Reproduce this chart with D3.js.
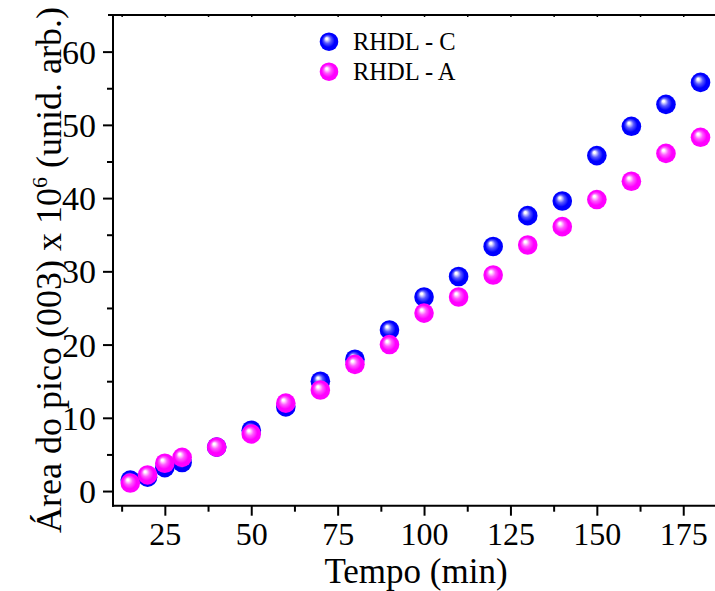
<!DOCTYPE html>
<html>
<head>
<meta charset="utf-8">
<script src="https://cdn.jsdelivr.net/npm/d3@7/dist/d3.min.js"></script>
<style>
  html, body { margin: 0; padding: 0; background: #fff; }
  svg { display: block; }
  text { font-family: "Liberation Serif", "Times New Roman", serif; fill: #000; }
</style>
</head>
<body>
<svg id="chart" width="715" height="591"></svg>
<script>
// ---- data ----
const tempo = [15, 20, 25, 30, 40, 50, 60, 70, 80, 90, 100, 110, 120, 130, 140, 150, 160, 170, 180];
const rhdlC = [1.5, 1.9, 3.2, 3.9, 6.0, 8.3, 11.5, 15.0, 18.0, 22.0, 26.5, 29.3, 33.4, 37.6, 39.6, 45.8, 49.8, 52.8, 55.8];
const rhdlA = [1.1, 2.2, 3.8, 4.6, 6.0, 7.8, 12.0, 13.8, 17.3, 20.0, 24.3, 26.5, 29.5, 33.6, 36.1, 39.8, 42.3, 46.1, 48.3];
const seriesNames = ["RHDL - C", "RHDL - A"];
const seriesColors = ["#0000ff", "#ff00ff"];
const xTicks = [25, 50, 75, 100, 125, 150, 175];
const yTicks = [0, 10, 20, 30, 40, 50, 60];

const svg = d3.select("#chart");
const mLeft = 113, mRight = 717.8, mTop = 15, mBottom = 505.7;

const x = d3.scaleLinear().domain([10, 185]).range([mLeft, mRight]);
const y = d3.scaleLinear().domain([-2, 65]).range([mBottom, mTop]);

// gradients
const defs = svg.append("defs");
seriesColors.forEach((c, i) => {
  const g = defs.append("radialGradient").attr("id", "g" + i)
    .attr("cx", "0.5").attr("cy", "0.5").attr("r", "0.5")
    .attr("fx", "0.36").attr("fy", "0.32");
  g.append("stop").attr("offset", "0%").attr("stop-color", "#ffffff");
  g.append("stop").attr("offset", "10%").attr("stop-color", "#ffffff");
  g.append("stop").attr("offset", "40%").attr("stop-color", d3.interpolateRgb(c, "#ffffff")(0.35));
  g.append("stop").attr("offset", "70%").attr("stop-color", c);
  g.append("stop").attr("offset", "100%").attr("stop-color", c);
});

// axes
const xMinor = d3.range(12.5, 185, 12.5).filter(v => xTicks.indexOf(v) < 0);
const yMinor = d3.range(-5, 65, 10).filter(v => v >= -2);

const xAxis = d3.axisBottom(x).tickValues(xTicks).tickSize(10).tickPadding(5).tickFormat(d3.format("d"));
const gx = svg.append("g").attr("transform", `translate(0,${mBottom})`).call(xAxis);
const xAxisMinor = d3.axisBottom(x).tickValues(xMinor).tickSize(6).tickFormat("");
const gxm = svg.append("g").attr("transform", `translate(0,${mBottom})`).call(xAxisMinor);

const yAxis = d3.axisLeft(y).tickValues(yTicks).tickSize(10).tickPadding(7).tickFormat(d3.format("d"));
const gy = svg.append("g").attr("transform", `translate(${mLeft},0)`).call(yAxis);
const yAxisMinor = d3.axisLeft(y).tickValues(yMinor).tickSize(6).tickFormat("");
const gym = svg.append("g").attr("transform", `translate(${mLeft},0)`).call(yAxisMinor);

// top frame with tiny ticks
const xTop = d3.axisTop(x).tickValues(xTicks.concat(xMinor)).tickSize(-2).tickFormat("");
const gt = svg.append("g").attr("transform", `translate(0,${mTop})`).call(xTop);

[gx, gxm, gy, gym, gt].forEach(g => {
  g.select(".domain").attr("stroke", "#000").attr("stroke-width", 2);
  g.selectAll(".tick line").attr("stroke", "#000").attr("stroke-width", 2);
});
gt.selectAll(".tick line").attr("stroke-width", 1.5);
gt.select(".domain").attr("d", `M${mLeft - 5},0H${mRight}`);
gx.select(".domain").attr("d", `M${mLeft - 1},0H${mRight}`);
gy.select(".domain").attr("d", `M0,${mTop - 1}V${mBottom + 1}`);
gxm.select(".domain").remove();
gym.select(".domain").remove();

gx.selectAll("text").attr("font-size", 32).attr("fill", "#000").attr("dy", "0.75em");
gy.selectAll("text").attr("font-size", 34).attr("fill", "#000").attr("dy", "0.34em");

// axis titles
svg.append("text").attr("x", 416).attr("y", 583)
  .attr("text-anchor", "middle").attr("font-size", 35).text("Tempo (min)");

const yt = svg.append("text").attr("transform", "translate(61,270) rotate(-90)")
  .attr("text-anchor", "middle").attr("font-size", 36);
yt.append("tspan").text("Área do pico (003) x 10");
yt.append("tspan").attr("font-size", 22).attr("dy", -14).text("6");
yt.append("tspan").attr("dy", 14).text(" (unid. arb.)");

// points
const series = [rhdlC, rhdlA];
series.forEach((vals, i) => {
  svg.append("g").selectAll("circle").data(tempo).join("circle")
    .attr("cx", d => x(d))
    .attr("cy", (d, j) => y(vals[j]))
    .attr("r", 9.8)
    .attr("fill", `url(#g${i})`);
});

// legend
seriesNames.forEach((name, i) => {
  const ly = 41.7 + i * 30;
  svg.append("circle").attr("cx", 329).attr("cy", ly).attr("r", 9.3).attr("fill", `url(#g${i})`);
  svg.append("text").attr("x", 353).attr("y", ly + 8).attr("font-size", 24.5).text(name);
});
</script>
</body>
</html>
